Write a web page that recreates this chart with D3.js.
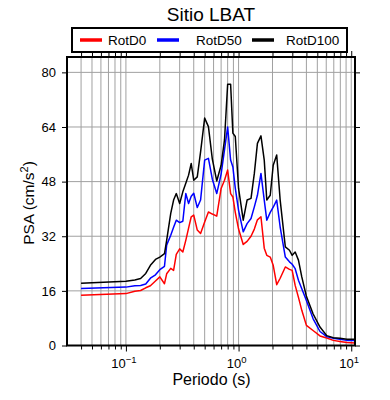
<!DOCTYPE html>
<html lang="en">
<head>
<meta charset="utf-8">
<title>Sitio LBAT</title>
<script src="https://d3js.org/d3.v7.min.js"></script>
<style>
  body { margin: 0; background: #fff; }
  text { font-family: "Liberation Sans", Arial, Helvetica, sans-serif; fill: #000; }
</style>
</head>
<body>
<script>
// data
const periods = [0.04, 0.1, 0.12, 0.135, 0.15, 0.165, 0.183, 0.2, 0.22, 0.23, 0.25, 0.265, 0.28, 0.3,
  0.32, 0.34, 0.36, 0.38, 0.4, 0.43, 0.46, 0.5, 0.54, 0.585, 0.64, 0.7, 0.75, 0.8, 0.85, 0.89, 0.935,
  1.0, 1.1, 1.19, 1.29, 1.38, 1.47, 1.58, 1.69, 1.78, 1.91, 2.03, 2.18, 2.34, 2.6, 2.83, 2.99, 3.18,
  3.4, 3.64, 4.0, 4.58, 5.28, 6.06, 6.93, 7.94, 9.16, 10.8];

const rotD0 = [14.7, 15.2, 15.9, 16.1, 16.9, 17.5, 18.9, 20.1, 18.1, 21.0, 22.6, 22.0, 26.7, 28.3,
  27.4, 30.8, 34.4, 37.7, 38.2, 33.8, 32.8, 36.2, 39.1, 38.5, 37.9, 46.0, 48.4, 51.4, 44.5, 43.5, 39.0,
  34.1, 29.6, 30.5, 32.0, 34.1, 36.8, 37.7, 28.5, 26.4, 25.9, 23.5, 17.8, 19.7, 23.0, 22.3, 22.0, 17.6,
  14.1, 10.3, 5.9, 4.4, 2.8, 2.2, 1.5, 1.2, 0.9, 0.7];

const rotD50 = [16.7, 17.1, 17.5, 17.6, 18.0, 19.7, 20.7, 22.2, 23.2, 29.4, 32.3, 34.6, 36.7, 36.0,
  36.4, 44.5, 41.6, 43.7, 44.6, 40.4, 42.6, 54.3, 54.8, 48.7, 44.5, 50.2, 57.3, 64.0, 54.3, 52.3, 46.1,
  39.6, 33.3, 35.7, 37.2, 40.6, 44.0, 50.4, 42.6, 36.7, 39.0, 40.5, 42.6, 34.7, 25.9, 24.5, 23.8, 22.5,
  19.1, 16.6, 13.2, 7.9, 4.1, 2.6, 2.1, 1.8, 1.5, 1.5];

const rotD100 = [18.2, 18.8, 19.2, 19.6, 21.1, 23.5, 25.2, 25.9, 26.9, 30.8, 38.7, 42.6, 44.5, 41.6,
  45.0, 47.5, 49.9, 53.3, 48.4, 49.4, 56.7, 66.6, 64.1, 54.6, 48.2, 52.8, 60.2, 76.5, 76.5, 62.2, 61.2,
  46.0, 36.7, 42.6, 43.1, 50.4, 59.2, 61.4, 54.3, 42.6, 44.0, 52.8, 55.8, 42.6, 28.9, 27.9, 26.4, 27.4,
  25.0, 20.1, 14.4, 9.3, 5.4, 2.9, 2.3, 2.1, 1.8, 1.85];

const seriesNames = ["RotD0", "RotD50", "RotD100"];
const seriesColors = ["#ff0000", "#0000ff", "#000000"];
const yTicks = [0, 16, 32, 48, 64, 80];
const xGrid = [0.04, 0.05, 0.06, 0.07, 0.08, 0.09, 0.1, 0.2, 0.3, 0.4, 0.5, 0.6, 0.7, 0.8, 0.9,
  1, 2, 3, 4, 5, 6, 7, 8, 9, 10];
const xDecades = [0.1, 1, 10];
const decadeExp = ["\u22121", "0", "1"];

const width = 390, height = 400;
const mLeft = 67, mRight = 355, mTop = 57, mBottom = 345.5;

const xScale = d3.scaleLog().domain([0.03, 10.8]).range([mLeft, mRight]);
const yScale = d3.scaleLinear().domain([0, 84.5]).range([mBottom, mTop]);

const svg = d3.select("body").append("svg")
  .attr("width", width).attr("height", height);

svg.append("defs").append("clipPath").attr("id", "clip")
  .append("rect").attr("x", mLeft).attr("y", mTop)
  .attr("width", mRight - mLeft).attr("height", mBottom - mTop);

// grid
svg.append("g").selectAll("line").data(xGrid).enter().append("line")
  .attr("x1", d => xScale(d)).attr("x2", d => xScale(d))
  .attr("y1", mTop).attr("y2", mBottom)
  .attr("stroke", "#a0a0a0").attr("stroke-width", 1);
svg.append("g").selectAll("line").data(yTicks.slice(1)).enter().append("line")
  .attr("x1", mLeft).attr("x2", mRight)
  .attr("y1", d => yScale(d)).attr("y2", d => yScale(d))
  .attr("stroke", "#a0a0a0").attr("stroke-width", 1);

// axes
const tickLen = d => xDecades.includes(d) ? 6 : 4;
const bottomAxis = svg.append("g").attr("transform", "translate(0," + mBottom + ")")
  .call(d3.axisBottom(xScale).tickValues(xGrid).tickFormat("").tickSizeOuter(0));
bottomAxis.selectAll(".tick line").attr("y2", d => tickLen(d));
const topAxis = svg.append("g").attr("transform", "translate(0," + mTop + ")")
  .call(d3.axisTop(xScale).tickValues(xGrid).tickFormat("").tickSizeOuter(0));
topAxis.selectAll(".tick line").attr("y2", d => -tickLen(d));

const leftAxis = svg.append("g").attr("transform", "translate(" + mLeft + ",0)")
  .call(d3.axisLeft(yScale).tickValues(yTicks).tickSize(5).tickPadding(6).tickSizeOuter(0));
leftAxis.selectAll("text").style("font-size", "13px").style("font-family", "Liberation Sans, Arial, sans-serif");
svg.append("g").attr("transform", "translate(" + mRight + ",0)")
  .call(d3.axisRight(yScale).tickValues(yTicks).tickSize(5).tickFormat("").tickSizeOuter(0));
svg.selectAll(".domain").remove();

// decade labels 10^n
const dl = svg.append("g").selectAll("text").data(xDecades).enter().append("text")
  .attr("x", d => xScale(d) - 2).attr("y", 368)
  .attr("text-anchor", "middle").style("font-size", "13px");
dl.append("tspan").text("10");
dl.append("tspan").attr("dy", -5).style("font-size", "9.5px").text((d, i) => decadeExp[i]);

// lines
const line = d3.line().x((d, i) => xScale(periods[i])).y(d => yScale(d));
const g = svg.append("g").attr("clip-path", "url(#clip)");
[rotD0, rotD50, rotD100].forEach((vals, i) => {
  g.append("path").datum(vals)
    .attr("d", line).attr("fill", "none")
    .attr("stroke", seriesColors[i]).attr("stroke-width", 1.5)
    .attr("stroke-linejoin", "round");
});

// frame
svg.append("rect").attr("x", mLeft).attr("y", mTop)
  .attr("width", mRight - mLeft).attr("height", mBottom - mTop)
  .attr("fill", "none").attr("stroke", "#000").attr("stroke-width", 2);

// title and axis labels
svg.append("text").attr("x", 211).attr("y", 21).attr("text-anchor", "middle")
  .style("font-size", "19px").text("Sitio LBAT");
svg.append("text").attr("x", 211.5).attr("y", 385).attr("text-anchor", "middle")
  .style("font-size", "16px").text("Periodo (s)");
const yl = svg.append("text").attr("transform", "translate(34,203) rotate(-90)")
  .attr("text-anchor", "middle").style("font-size", "15.5px");
yl.append("tspan").text("PSA (cm/s");
yl.append("tspan").attr("dy", -6).style("font-size", "11px").text("2");
yl.append("tspan").attr("dy", 6).text(")");

// legend
const leg = svg.append("g");
leg.append("rect").attr("x", 72).attr("y", 28).attr("width", 275).attr("height", 24)
  .attr("fill", "#fff").attr("stroke", "#000").attr("stroke-width", 2);
const legX = [80, 157, 252];
const legTextX = [108, 196, 286];
seriesNames.forEach((name, i) => {
  leg.append("line").attr("x1", legX[i]).attr("x2", legX[i] + 22)
    .attr("y1", 40).attr("y2", 40)
    .attr("stroke", seriesColors[i]).attr("stroke-width", 3.5);
  leg.append("text").attr("x", legTextX[i]).attr("y", 45)
    .style("font-size", "13.5px").text(name);
});
</script>
</body>
</html>
